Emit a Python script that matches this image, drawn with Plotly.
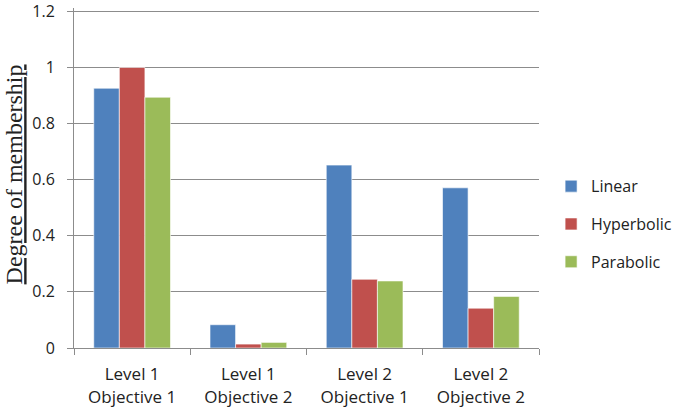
import plotly.graph_objects as go

categories = ["Level 1<br>Objective 1", "Level 1<br>Objective 2",
              "Level 2<br>Objective 1", "Level 2<br>Objective 2"]
linear = [0.926, 0.083, 0.652, 0.571]
hyperbolic = [1.0, 0.014, 0.245, 0.142]
parabolic = [0.894, 0.020, 0.239, 0.184]
yticks = [0, 0.2, 0.4, 0.6, 0.8, 1, 1.2]

series = [("Linear", linear, "#4F81BD"),
          ("Hyperbolic", hyperbolic, "#C0504D"),
          ("Parabolic", parabolic, "#9BBB59")]

fig = go.Figure()
for name, vals, col in series:
    fig.add_trace(go.Bar(x=categories, y=vals, name=name, legendgroup=name,
                         marker=dict(color=col, line=dict(color="rgba(255,255,255,0.6)", width=1))))

grid = "#8C8C8C"
fig.update_layout(
    width=685, height=409,
    barmode="group", bargap=0.34, bargroupgap=0,
    plot_bgcolor="white", paper_bgcolor="white",
    margin=dict(l=74, r=140, t=8, b=61),
    font=dict(family="Open Sans, Liberation Sans, sans-serif", size=16, color="#222"),
    xaxis=dict(showline=True, linecolor=grid, linewidth=1, ticks="outside",
               tickson="boundaries", ticklen=6, tickcolor=grid, automargin=False,
               tickfont=dict(size=17), ticklabelstandoff=11),
    yaxis=dict(range=[0, 1.212], tickvals=yticks, ticktext=[f"{v:g}" for v in yticks],
               showgrid=True, gridcolor=grid, gridwidth=1,
               showline=True, linecolor=grid, ticks="outside", ticklen=6, tickcolor=grid,
               tickfont=dict(size=16), zeroline=False, automargin=False, ticklabelstandoff=9,
               ticklabeloverflow="allow"),
    legend=dict(x=1.026, y=0.364, yanchor="middle", xanchor="left",
                font=dict(size=16), tracegroupgap=14, bgcolor="rgba(0,0,0,0)"),
    annotations=[dict(text="<u>Degree of membership</u>", textangle=-90,
                      xref="paper", yref="paper", x=-(74 - 13) / 471, y=0.51,
                      xanchor="center", yanchor="middle", showarrow=False,
                      font=dict(family="Liberation Serif, Times New Roman, serif", size=24, color="#222"))],
)
# drop the default 8px body margin so the figure sits at the window corner
fig.write_html("out.html", config={"displayModeBar": False},
               post_script="document.body.style.margin='0';")
